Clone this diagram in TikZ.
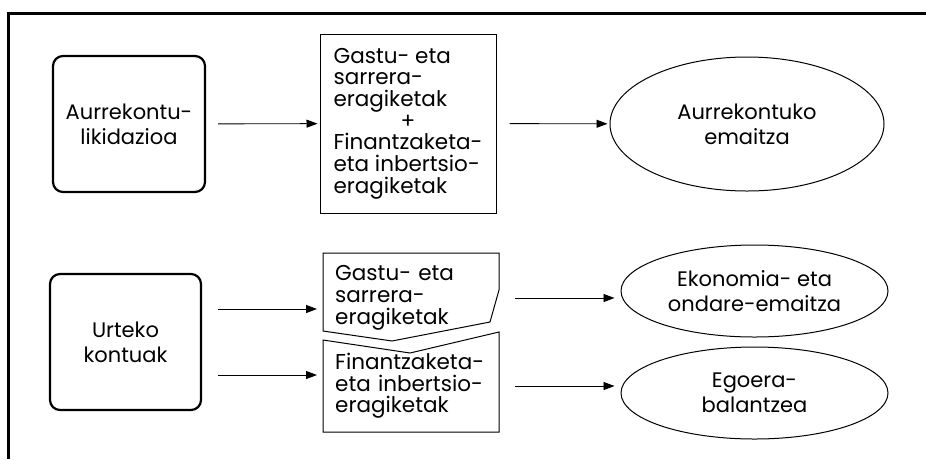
\documentclass[tikz,border=0pt]{standalone}
\usepackage{fontspec}
\setmainfont{Poppins}
\usetikzlibrary{arrows.meta,shapes.geometric}

\begin{document}
\begin{tikzpicture}[x=1pt, y=-1pt, line join=miter,
    bigtext/.style={font=\fontsize{21}{25}\selectfont},
    smalltext/.style={font=\fontsize{21.5}{21.7}\selectfont},
    roundbox/.style={draw, line width=2.2pt, rounded corners=10pt,
      align=center, inner sep=0pt, bigtext},
    oval/.style={draw, ellipse, line width=1pt, align=center,
      inner sep=0pt, bigtext},
    cut/.style={anchor=west, text width=152pt, inner xsep=12pt,
      inner ysep=0pt, align=left, smalltext},
    flow/.style={-{Triangle[length=11pt,width=8pt]}, line width=0.9pt}]
  \useasboundingbox (0,0) rectangle (926,459);
  % outer frame, only top and left edges
  \draw[line width=2.8pt] (8.3,459) -- (8.3,13.5) -- (926,13.5);

  % upper row
  \node[roundbox, minimum width=152pt, minimum height=136pt]
    (budget) at (129,124) {Aurrekontu-\\likidazioa};
  \node[draw, line width=1pt, minimum width=176pt, minimum height=179pt,
    align=left, inner sep=0pt, smalltext]
    (ops) at (408,123.5) {Gastu- eta\\sarrera-\\eragiketak\\
      \hspace*{67pt}+\\Finantzaketa-\\eta inbertsio-\\eragiketak};
  \node[oval, minimum width=274pt, minimum height=134pt]
    (result) at (747,124) {Aurrekontuko\\emaitza};
  \draw[flow, shorten <=12pt, shorten >=2pt] (budget) -- (ops);
  \draw[flow, shorten <=13pt, shorten >=2pt] (ops) -- (result);

  % lower row
  \node[roundbox, minimum width=151pt, minimum height=136pt]
    (annual) at (125.5,342) {Urteko\\kontuak};
  \draw[line width=1pt] (323,253) -- (499,253) -- (499,290)
    -- (490,322) -- (392,341) -- (323,331) -- cycle;
  \draw[line width=1pt] (323,340) -- (410,353) -- (499,332)
    -- (499,432) -- (323,432) -- cycle;
  \node[cut] (current) at (323,298) {Gastu- eta\\sarrera-\\eragiketak};
  \node[cut] (capital) at (323,386) {Finantzaketa-\\eta inbertsio-\\eragiketak};
  \node[oval, minimum width=267pt, minimum height=92pt]
    (econ) at (754.5,291) {Ekonomia- eta\\ondare-emaitza};
  \node[oval, minimum width=267pt, minimum height=92pt]
    (balance) at (754.5,393) {Egoera-\\balantzea};
  \draw[flow, shorten <=16pt, shorten >=6pt]
    ([yshift=33pt]annual.east) -- ([yshift=33pt]annual.east -| current.west);
  \draw[flow, shorten <=16pt, shorten >=6pt]
    ([yshift=-33pt]annual.east) -- ([yshift=-33pt]annual.east -| capital.west);
  \draw[flow, shorten <=16pt, shorten >=6pt]
    (current.east) -- (current.east -| econ.west);
  \draw[flow, shorten <=16pt, shorten >=6pt]
    (capital.east) -- (capital.east -| balance.west);
\end{tikzpicture}
\end{document}
